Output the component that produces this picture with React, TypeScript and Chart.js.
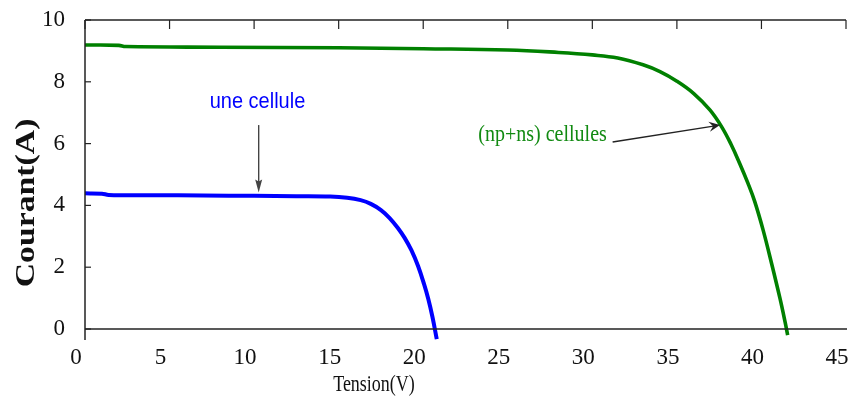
import React, { useEffect, useRef } from 'react';
import { Chart, registerables } from 'chart.js';

Chart.register(...registerables);

// ---- data ----
const xTickValues = [0, 5, 10, 15, 20, 25, 30, 35, 40, 45];
const yTickValues = [0, 2, 4, 6, 8, 10];

const blueV = [0, 1.0, 1.4, 4, 7, 10, 12.5, 14.5, 15.5, 16.3, 16.9, 17.5, 18.0, 18.5, 18.9, 19.3, 19.7, 20.05, 20.3, 20.55, 20.8];
const blueI = [4.39, 4.38, 4.34, 4.33, 4.32, 4.31, 4.3, 4.29, 4.25, 4.17, 4.05, 3.85, 3.6, 3.27, 2.95, 2.55, 2.03, 1.45, 0.97, 0.38, -0.33];

const greenV = [0, 2.0, 2.4, 8, 15, 20, 25, 28, 30, 31.5, 33, 34, 35, 36, 36.95, 37.64, 38.2, 38.72, 39.2, 39.6, 40.1, 40.6, 41.1, 41.4, 41.55];
const greenI = [9.19, 9.18, 9.14, 9.12, 9.1, 9.07, 9.03, 8.95, 8.87, 8.77, 8.55, 8.33, 8.02, 7.62, 7.09, 6.55, 5.98, 5.35, 4.72, 4.13, 3.2, 2.12, 0.98, 0.22, -0.2];

const xTitle = 'Tension(V)';
const yTitle = 'Courant(A)';
const blueLabel = 'une cellule';
const greenLabel = '(np+ns) cellules';

// annotation anchors in data units
const blueText = { x: 10.2, y: 7.15 };
const blueArrow = { x1: 10.27, y1: 6.6, x2: 10.27, y2: 4.42 };
const greenText = { x: 23.26, y: 6.08 };
const greenArrow = { x1: 31.2, y1: 6.05, x2: 37.55, y2: 6.6 };

const toPoints = (xs: number[], ys: number[]) => xs.map((v, i) => ({ x: v, y: ys[i] }));

function drawArrow(ctx: CanvasRenderingContext2D, x1: number, y1: number, x2: number, y2: number, len: number, half: number, notch: number, color: string) {
  const ang = Math.atan2(y2 - y1, x2 - x1);
  const cos = Math.cos(ang), sin = Math.sin(ang);
  ctx.strokeStyle = color;
  ctx.fillStyle = color;
  ctx.lineWidth = 1.4;
  ctx.beginPath();
  ctx.moveTo(x1, y1);
  ctx.lineTo(x2 - cos * len * 0.6, y2 - sin * len * 0.6);
  ctx.stroke();
  const bx = x2 - cos * len, by = y2 - sin * len;
  ctx.beginPath();
  ctx.moveTo(x2, y2);
  ctx.lineTo(bx - sin * half, by + cos * half);
  ctx.lineTo(x2 - cos * (len - notch), y2 - sin * (len - notch));
  ctx.lineTo(bx + sin * half, by - cos * half);
  ctx.closePath();
  ctx.fill();
}

const framePlugin = {
  id: 'frameAndNotes',
  afterDraw(chart: any) {
    const { ctx, chartArea } = chart;
    const { left, right, top, bottom } = chartArea;
    const xs = chart.scales.x;
    const ys = chart.scales.y;
    ctx.save();
    ctx.strokeStyle = '#222';
    ctx.lineWidth = 1.5;
    const line = (a: number, b: number, c: number, d: number) => {
      ctx.beginPath();
      ctx.moveTo(a, b);
      ctx.lineTo(c, d);
      ctx.stroke();
    };
    line(left, top, right, top);
    line(left, top, left, bottom + 11);
    line(left, bottom, right + 1, bottom);
    ctx.lineWidth = 1.2;
    xTickValues.forEach((v) => {
      const px = xs.getPixelForValue(v);
      line(px, top, px, top + 9);
    });
    yTickValues.forEach((v) => {
      const py = ys.getPixelForValue(v);
      line(left, py, left + 6, py);
    });

    // axis titles
    ctx.fillStyle = '#111';
    ctx.save();
    ctx.translate(374, 391);
    ctx.scale(1, 1.25);
    ctx.font = '18px "Liberation Serif", "Times New Roman", serif';
    ctx.textAlign = 'center';
    ctx.textBaseline = 'alphabetic';
    ctx.fillText(xTitle, 0, 0);
    ctx.restore();

    ctx.save();
    ctx.translate(34, 203);
    ctx.rotate(-Math.PI / 2);
    ctx.scale(1.25, 1);
    ctx.font = 'bold 27px "Liberation Serif", "Times New Roman", serif';
    ctx.textAlign = 'center';
    ctx.textBaseline = 'alphabetic';
    ctx.fillText(yTitle, 0, 0);
    ctx.restore();

    // annotations
    ctx.save();
    ctx.translate(xs.getPixelForValue(blueText.x), ys.getPixelForValue(blueText.y));
    ctx.scale(1, 1.12);
    ctx.font = '20px "Liberation Sans", Arial, sans-serif';
    ctx.fillStyle = '#0000ff';
    ctx.textAlign = 'center';
    ctx.fillText(blueLabel, 0, 0);
    ctx.restore();

    drawArrow(ctx,
      xs.getPixelForValue(blueArrow.x1), ys.getPixelForValue(blueArrow.y1),
      xs.getPixelForValue(blueArrow.x2), ys.getPixelForValue(blueArrow.y2),
      13, 3.5, 2, '#444');

    ctx.save();
    ctx.translate(xs.getPixelForValue(greenText.x), ys.getPixelForValue(greenText.y));
    ctx.scale(1, 1.2);
    ctx.font = '20px "Liberation Serif", "Times New Roman", serif';
    ctx.fillStyle = '#118a11';
    ctx.textAlign = 'left';
    ctx.fillText(greenLabel, 0, 0);
    ctx.restore();

    drawArrow(ctx,
      xs.getPixelForValue(greenArrow.x1), ys.getPixelForValue(greenArrow.y1),
      xs.getPixelForValue(greenArrow.x2), ys.getPixelForValue(greenArrow.y2),
      11, 5, 4, '#222');

    ctx.restore();
  },
};

export default function App() {
  const ref = useRef<HTMLCanvasElement | null>(null);
  useEffect(() => {
    if (!ref.current) return;
    const chart = new Chart(ref.current, {
      type: 'line',
      data: {
        datasets: [
          {
            label: greenLabel,
            data: toPoints(greenV, greenI),
            borderColor: '#008000',
            borderWidth: 3.6,
            pointRadius: 0,
            tension: 0.4,
            clip: false as any,
            fill: false,
          },
          {
            label: blueLabel,
            data: toPoints(blueV, blueI),
            borderColor: '#0000ff',
            borderWidth: 4,
            pointRadius: 0,
            tension: 0.4,
            clip: false as any,
            fill: false,
          },
        ],
      },
      options: {
        animation: false,
        responsive: false,
        events: [],
        layout: { padding: { left: 0, top: 20, right: 5, bottom: 0 } },
        plugins: { legend: { display: false }, tooltip: { enabled: false } },
        scales: {
          x: {
            type: 'linear',
            min: 0,
            max: 45,
            afterBuildTicks: (s: any) => {
              s.ticks = xTickValues.map((v) => ({ value: v }));
            },
            afterFit: (s: any) => {
              s.height = 67;
              s.paddingLeft = 0;
              s.paddingRight = 0;
            },
            grid: { display: false },
            border: { display: false },
            ticks: {
              color: '#111',
              padding: 7,
              labelOffset: -9,
              maxRotation: 0,
              autoSkip: false,
              font: { family: '"Liberation Serif", "Times New Roman", serif', size: 23 },
            },
          },
          y: {
            type: 'linear',
            min: 0,
            max: 10,
            afterBuildTicks: (s: any) => {
              s.ticks = yTickValues.map((v) => ({ value: v }));
            },
            afterFit: (s: any) => {
              s.width = 85;
              s.paddingTop = 0;
              s.paddingBottom = 0;
            },
            grid: { display: false },
            border: { display: false },
            ticks: {
              color: '#111',
              padding: 12,
              font: { family: '"Liberation Serif", "Times New Roman", serif', size: 23 },
            },
          },
        },
      },
      plugins: [framePlugin],
    });
    return () => chart.destroy();
  }, []);
  return (
    <div style={{ position: 'absolute', left: 0, top: 0, width: 851, height: 396, background: '#fff' }}>
      <canvas ref={ref} width={851} height={396} />
    </div>
  );
}
